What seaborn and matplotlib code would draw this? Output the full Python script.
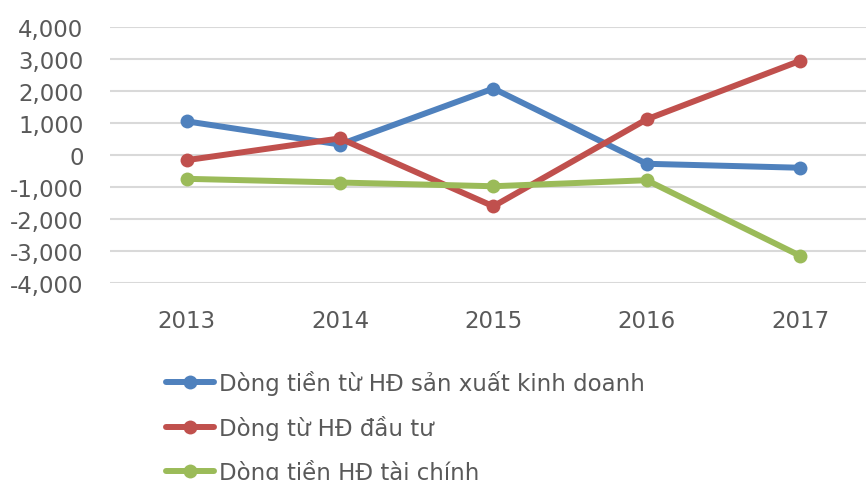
import matplotlib
matplotlib.use("Agg")
import matplotlib.pyplot as plt
import seaborn as sns
import pandas as pd

# data
years = ["2013", "2014", "2015", "2016", "2017"]
kinh_doanh = [1050, 326, 2075, -276, -400]
dau_tu = [-163, 517, -1605, 1113, 2940]
tai_chinh = [-746, -862, -978, -790, -3150]
series_names = [
    "Dòng tiền từ HĐ sản xuất kinh doanh",
    "Dòng từ HĐ đầu tư",
    "Dòng tiền HĐ tài chính",
]
colors = ["#4F81BD", "#C0504D", "#9BBB59"]

rows = []
for name, vals in zip(series_names, [kinh_doanh, dau_tu, tai_chinh]):
    for i, v in enumerate(vals):
        rows.append({"pos": i, "value": v, "series": name})
df = pd.DataFrame(rows)

sns.set_theme(style="white")
plt.rcParams["font.family"] = ["DejaVu Sans"]

fig = plt.figure(figsize=(8.66, 4.81), dpi=100)
ax = fig.add_axes([0.127, 0.4096, 0.873, 0.5324])

sns.lineplot(data=df, x="pos", y="value", hue="series", hue_order=series_names,
             palette=colors, marker="o", markersize=10, markeredgewidth=0,
             linewidth=4.3, ax=ax, legend=True)

ax.set_xlim(-0.5, 4.43)
ax.set_ylim(-4000, 4000)
ax.set_yticks(range(-4000, 4001, 1000))
ax.set_yticklabels([f"{v:,}" for v in range(-4000, 4001, 1000)])
ax.set_xticks(range(len(years)))
ax.set_xticklabels(years)
ax.yaxis.grid(True, color="#D9D9D9", linewidth=1.5)
ax.xaxis.grid(False)
ax.set_axisbelow(True)
for s in ax.spines.values():
    s.set_visible(False)
ax.set_xlabel("")
ax.set_ylabel("")
ax.tick_params(axis="y", labelsize=16.5, colors="#595959", length=0, pad=19)
ax.tick_params(axis="x", labelsize=16.5, colors="#595959", length=0, pad=19)

handles, labels = ax.get_legend_handles_labels()
ax.legend(handles, labels, loc="upper left", bbox_to_anchor=(0.192, 0.228),
          bbox_transform=fig.transFigure, frameon=False, fontsize=16.5,
          labelcolor="#595959", handlelength=2.1, handletextpad=0.2,
          labelspacing=0.85, borderaxespad=0, borderpad=0)

fig.savefig("out.png", dpi=100)
